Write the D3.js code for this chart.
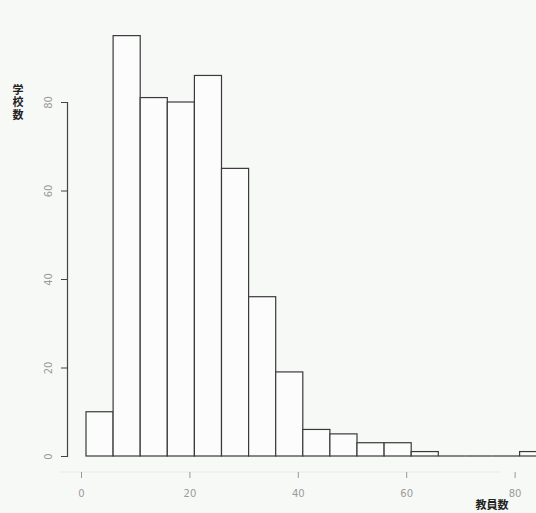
<!DOCTYPE html>
<html>
<head>
<meta charset="utf-8">
<script src="https://cdn.jsdelivr.net/npm/d3@7"></script>
<style>
  html, body { margin: 0; padding: 0; background: #f7f9f6; }
  svg { display: block; }
</style>
</head>
<body>
<div id="chart"></div>
<script>
// Histogram: number of schools by number of teachers (bin width 5)
const binStarts = [0, 5, 10, 15, 20, 25, 30, 35, 40, 45, 50, 55, 60, 65, 70, 75, 80];
const binWidth = 5;
const schoolCounts = [10, 95, 81, 80, 86, 65, 36, 19, 6, 5, 3, 3, 1, 0, 0, 0, 1];
const xTicks = [0, 20, 40, 60, 80];
const yTicks = [0, 20, 40, 60, 80];
const xTitle = "教員数";
const yTitle = "学校数";

const W = 536, H = 513;
const svg = d3.select("#chart").append("svg")
  .attr("width", W).attr("height", H);

svg.append("rect").attr("width", W).attr("height", H).attr("fill", "#f7f9f6");

const x = d3.scaleLinear().domain([0, 85]).range([86, 86 + 85 * 5.42]);
const y = d3.scaleLinear().domain([0, 80]).range([456, 102]);

const bars = binStarts.map((s, i) => ({ x0: s, x1: s + binWidth, n: schoolCounts[i] }));

// bars
const barG = svg.append("g");
barG.selectAll("rect").data(bars.filter(d => d.n > 0)).join("rect")
  .attr("x", d => x(d.x0))
  .attr("y", d => y(d.n))
  .attr("width", d => x(d.x1) - x(d.x0))
  .attr("height", d => y(0) - y(d.n))
  .attr("fill", "#fbfcfb")
  .attr("stroke", "#3a3a3a")
  .attr("stroke-width", 1.2);

// empty bins collapse to a flat line on the baseline
barG.selectAll("line").data(bars.filter(d => d.n === 0)).join("line")
  .attr("x1", d => x(d.x0)).attr("x2", d => x(d.x1))
  .attr("y1", y(0)).attr("y2", y(0))
  .attr("stroke", "#3a3a3a")
  .attr("stroke-width", 1.2);

// faint line under the bars
svg.append("line")
  .attr("x1", 60).attr("x2", 500)
  .attr("y1", 472).attr("y2", 472)
  .attr("stroke", "#e6e9e5").attr("stroke-width", 1);

// x axis
const xAxis = svg.append("g")
  .attr("transform", "translate(-5,472)")
  .call(d3.axisBottom(x).tickValues(xTicks).tickSize(6).tickPadding(12).tickFormat(d3.format("d")));
xAxis.select(".domain").remove();
xAxis.selectAll(".tick line").attr("stroke", "#999").attr("stroke-width", 1);
xAxis.selectAll(".tick text")
  .attr("fill", "#9a9a9a")
  .style("font-family", "DejaVu Sans, sans-serif")
  .style("font-size", "10px");

// y axis
const yAxis = svg.append("g")
  .attr("transform", "translate(67,0)")
  .call(d3.axisLeft(y).tickValues(yTicks).tickSize(6).tickFormat(d3.format("d")));
yAxis.select(".domain").attr("stroke", "#444").attr("stroke-width", 1.2);
yAxis.selectAll(".tick line").attr("stroke", "#444").attr("stroke-width", 1);
yAxis.selectAll(".tick text")
  .attr("fill", "#9a9a9a")
  .style("font-family", "DejaVu Sans, sans-serif")
  .style("font-size", "10px")
  .attr("text-anchor", "middle")
  .attr("x", 0)
  .attr("dy", "0.35em")
  .attr("transform", "translate(-19,0) rotate(-90)");

// y title, written vertically
svg.append("text")
  .attr("x", 18)
  .attr("y", 84)
  .style("writing-mode", "vertical-rl")
  .style("text-orientation", "upright")
  .style("letter-spacing", "1.5px")
  .style("font-family", "Noto Sans CJK JP, sans-serif")
  .style("font-size", "11px")
  .style("font-weight", "bold")
  .attr("fill", "#222")
  .text(yTitle);

// x title
svg.append("text")
  .attr("x", 492).attr("y", 509)
  .attr("text-anchor", "middle")
  .style("font-family", "Noto Sans CJK JP, sans-serif")
  .style("font-size", "11px")
  .style("font-weight", "bold")
  .attr("fill", "#222")
  .text(xTitle);
</script>
</body>
</html>
